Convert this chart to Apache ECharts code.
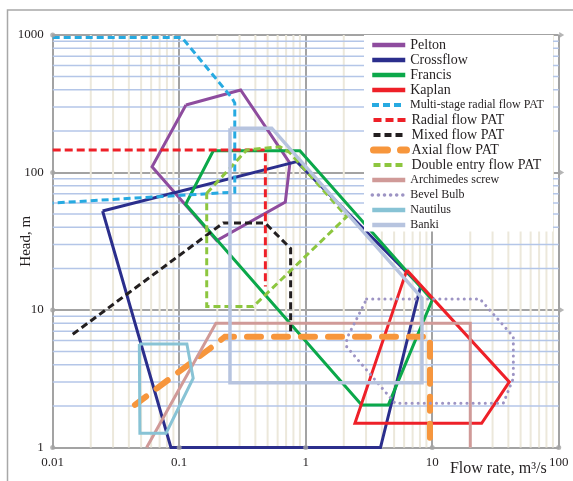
<!DOCTYPE html>
<html>
<head>
<meta charset="utf-8">
<script src="https://cdn.jsdelivr.net/npm/echarts@6/dist/echarts.min.js"></script>
<style>
  html, body { margin: 0; padding: 0; background: #fff; }
  #chart { width: 573px; height: 481px; }
</style>
</head>
<body>
<div id="chart"></div>
<script>
// Operating envelopes of small hydro turbines and pumps-as-turbines (log-log)
const xTicks = [0.01, 0.1, 1, 10, 100];
const xTickLabels = ['0.01', '0.1', '1', '10', '100'];
const yTicks = [1, 10, 100, 1000];
const yTickLabels = ['1', '10', '100', '1000'];
const minorSteps = [2, 3, 4, 5, 6, 7, 8, 9];

// [flow rate m3/s, head m] outline vertices
const pelton = [[0.113, 310], [0.306, 398], [0.75, 117], [0.69, 61], [0.198, 32], [0.061, 110], [0.113, 310]];
const crossflow = [[0.0248, 52.5], [0.85, 120], [8.1, 14.9], [3.9, 1], [0.086, 1], [0.0248, 52.5]];
const francis = [[0.186, 144], [0.9, 144], [10, 11.8], [4.5, 2.04], [2.77, 2.04], [0.1125, 58.7], [0.186, 144]];
const kaplan = [[6.3, 19.5], [40.7, 3.0], [24.6, 1.5], [2.45, 1.5], [6.3, 19.5]];
const multiStagePAT = [[0.01, 960], [0.105, 960], [0.26, 350], [0.275, 320], [0.275, 72], [0.01, 60]];
const radialPAT = [[0.01, 146], [0.48, 146], [0.48, 14.8]];
const mixedPAT = [[0.0144, 6.66], [0.223, 43], [0.477, 43], [0.76, 28], [0.76, 6.6]];
const axialPAT = [[0.0447, 2.04], [0.198, 5.72], [0.23, 6.4], [9.6, 6.4], [9.6, 1]];
const doubleEntryPAT = [[0.165, 70.6], [0.342, 146], [0.626, 154], [0.752, 139], [2.11, 47.7], [0.385, 10.6], [0.165, 10.6], [0.165, 70.6]];
const archimedes = [[0.0553, 1], [0.195, 8], [20, 8], [20, 1]];
const bevelBulb = [[3.03, 12], [23.9, 12], [43.8, 6.4], [43.8, 3.19], [36.5, 2.1], [5.08, 2.1], [2.11, 5.4], [2.11, 6.2], [3.03, 12]];
const nautilus = [[0.0484, 5.66], [0.115, 5.66], [0.129, 3.19], [0.0787, 1.27], [0.0489, 1.27], [0.0484, 5.66]];
const banki = [[0.252, 210], [0.539, 210], [8.3, 12.2], [8.3, 2.96], [0.252, 2.96], [0.252, 210]];

const seriesNames = ['Pelton', 'Crossflow', 'Francis', 'Kaplan', 'Multi-stage radial flow PAT',
  'Radial flow PAT', 'Mixed flow PAT', 'Axial flow PAT', 'Double entry flow PAT',
  'Archimedes screw', 'Bevel Bulb', 'Nautilus', 'Banki'];
const seriesData = [pelton, crossflow, francis, kaplan, multiStagePAT, radialPAT, mixedPAT,
  axialPAT, doubleEntryPAT, archimedes, bevelBulb, nautilus, banki];
const smallLegendNames = ['Multi-stage radial flow PAT', 'Archimedes screw', 'Bevel Bulb', 'Nautilus', 'Banki'];

// line styles per series
const styles = {
  'Pelton':                      { color: '#8E4C9E', width: 3, type: 'solid', legendWidth: 4.5 },
  'Crossflow':                   { color: '#2B2E8C', width: 3, type: 'solid', legendWidth: 4.5 },
  'Francis':                     { color: '#0BA84A', width: 3, type: 'solid', legendWidth: 4.5 },
  'Kaplan':                      { color: '#EE2028', width: 3, type: 'solid', legendWidth: 4.5 },
  'Multi-stage radial flow PAT': { color: '#27AAE1', width: 3, type: [7, 4], legendWidth: 4 },
  'Radial flow PAT':             { color: '#EE2028', width: 3, type: [8, 4], legendWidth: 4 },
  'Mixed flow PAT':              { color: '#231F20', width: 3, type: [7, 4], legendWidth: 4 },
  'Axial flow PAT':              { color: '#F7963C', width: 6, type: [14, 13], cap: 'round', legendWidth: 7 },
  'Double entry flow PAT':       { color: '#8DC63F', width: 3, type: [7, 4], legendWidth: 4 },
  'Archimedes screw':            { color: '#D09A98', width: 3, type: 'solid', legendWidth: 4.5 },
  'Bevel Bulb':                  { color: '#9D94C4', width: 3, type: [0.1, 6], cap: 'round', legendWidth: 3.5 },
  'Nautilus':                    { color: '#88C3D5', width: 3, type: 'solid', legendWidth: 4.5 },
  'Banki':                       { color: '#B7C4DF', width: 3.5, type: 'solid', legendWidth: 4.5 }
};

const FONT = "'Liberation Serif','Times New Roman',serif";
const TEXT = '#231F20';
const MAJOR = '#A3A3A3';

const xMinor = [];
for (let i = 0; i < xTicks.length - 1; i++) minorSteps.forEach(s => xMinor.push([xTicks[i] * s, yTicks[0]]));
const yMinor = [];
for (let i = 0; i < yTicks.length - 1; i++) minorSteps.forEach(s => yMinor.push([xTicks[0], yTicks[i] * s]));

function tickLabel(ticks, labels) {
  return v => {
    let best = 0, bd = Infinity;
    ticks.forEach((t, i) => { const d = Math.abs(Math.log10(v) - Math.log10(t)); if (d < bd) { bd = d; best = i; } });
    return labels[best];
  };
}

function minorLine(vertical, color, width) {
  return {
    type: 'custom', silent: true, z: 1, animation: false,
    data: vertical ? xMinor : yMinor,
    renderItem: (params, api) => {
      const v = api.value(vertical ? 0 : 1);
      const a = vertical ? api.coord([v, yTicks[0]]) : api.coord([xTicks[0], v]);
      const b = vertical ? api.coord([v, yTicks[yTicks.length - 1]]) : api.coord([xTicks[xTicks.length - 1], v]);
      return { type: 'line', shape: { x1: a[0], y1: a[1], x2: b[0], y2: b[1] }, style: { stroke: color, lineWidth: width } };
    }
  };
}

const lineSeries = seriesNames.map((name, i) => {
  const st = styles[name];
  return {
    name, type: 'line', data: seriesData[i], z: 2,
    symbol: 'none', showSymbol: false, silent: true, animation: false,
    emphasis: { disabled: true },
    lineStyle: { color: st.color, width: st.width, type: st.type, cap: st.cap || 'butt', join: 'miter' },
    itemStyle: { color: st.color }
  };
});

// legend split into blocks of equal font size so every row is 15px apart
const LEGEND_ROW = 15, LEGEND_FIRST = 45, LEGEND_X = 370;
function legendBlock(names) {
  const small = smallLegendNames.includes(names[0]);
  const fs = small ? 12 : 14;
  const first = seriesNames.indexOf(names[0]);
  return {
    orient: 'vertical', left: LEGEND_X, top: LEGEND_FIRST + first * LEGEND_ROW - fs / 2,
    padding: 0, itemWidth: 33, itemHeight: 12, itemGap: LEGEND_ROW - fs,
    selectedMode: false,
    itemStyle: { opacity: 0 },
    data: names.map(n => ({ name: n, lineStyle: { width: styles[n].legendWidth } })),
    textStyle: { fontFamily: FONT, color: TEXT, fontSize: fs }
  };
}
const legendBlocks = [];
seriesNames.forEach(n => {
  const small = smallLegendNames.includes(n);
  const last = legendBlocks[legendBlocks.length - 1];
  if (last && last.small === small) last.names.push(n); else legendBlocks.push({ small, names: [n] });
});

const chart = echarts.init(document.getElementById('chart'), null, { renderer: 'canvas' });
chart.setOption({
  animation: false,
  backgroundColor: '#fff',
  textStyle: { fontFamily: FONT },
  grid: { left: 52.7, right: 14.3, top: 35, bottom: 33.5, containLabel: false, outerBoundsMode: 'none' },
  graphic: [{
    type: 'rect', silent: true, z: -10,
    shape: { x: 7.5, y: 10, width: 700, height: 700 },
    style: { fill: 'none', stroke: '#A8A8A8', lineWidth: 1.5 }
  }, {
    // legend panel
    type: 'rect', silent: true, z: 3,
    shape: { x: 364, y: 35, width: 189, height: 196.5 },
    style: { fill: '#fff' }
  }],
  xAxis: {
    type: 'log', logBase: 10, min: xTicks[0], max: xTicks[xTicks.length - 1],
    name: 'Flow rate, m³/s', nameLocation: 'end', nameGap: -12, nameMoveOverlap: false,
    nameTextStyle: { fontFamily: FONT, fontSize: 16, color: TEXT, align: 'right', verticalAlign: 'top', padding: [13, 0, 0, 0] },
    axisLine: { show: true, lineStyle: { color: MAJOR, width: 2 } },
    axisTick: { show: false },
    axisLabel: { fontFamily: FONT, fontSize: 13, color: TEXT, margin: 9, formatter: tickLabel(xTicks, xTickLabels) },
    splitLine: { show: true, lineStyle: { color: MAJOR, width: 2 } }
  },
  yAxis: {
    type: 'log', logBase: 10, min: yTicks[0], max: yTicks[yTicks.length - 1],
    name: 'Head, m', nameLocation: 'middle', nameGap: 19, nameRotate: 90, nameMoveOverlap: false,
    nameTextStyle: { fontFamily: FONT, fontSize: 15, color: TEXT },
    axisLine: { show: true, lineStyle: { color: MAJOR, width: 2 } },
    axisTick: { show: false },
    axisLabel: { fontFamily: FONT, fontSize: 13, color: TEXT, margin: 9, formatter: tickLabel(yTicks, yTickLabels) },
    splitLine: { show: true, lineStyle: { color: MAJOR, width: 2 } }
  },
  legend: legendBlocks.map(b => legendBlock(b.names)),
  series: [
    minorLine(true, '#ECE8DB', 2),
    minorLine(false, '#B4C6E8', 1.5),
    ...lineSeries,
    {
      type: 'scatter', silent: true, z: 3, clip: false, animation: false,
      symbol: 'circle', symbolSize: 5, itemStyle: { color: MAJOR },
      data: yTicks.map(v => [xTicks[0], v]).concat(xTicks.slice(1).map(v => [v, yTicks[0]]))
    },
    {
      type: 'scatter', silent: true, z: 3, clip: false, animation: false,
      symbol: 'triangle', symbolSize: [6, 5], symbolRotate: -90, symbolOffset: [3, 0],
      itemStyle: { color: MAJOR },
      data: yTicks.slice(1).map(v => [xTicks[xTicks.length - 1], v])
    }
  ]
});
</script>
</body>
</html>
